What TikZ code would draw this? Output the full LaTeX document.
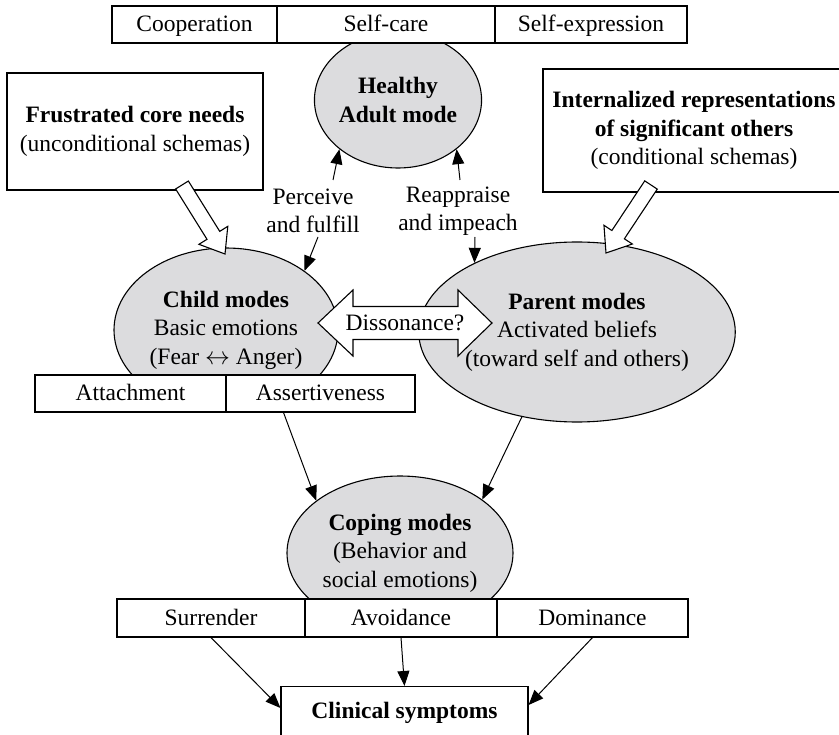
\documentclass[tikz,border=0pt]{standalone}
\usepackage{fontspec}
\setmainfont{Liberation Serif}
\usetikzlibrary{shapes.geometric,arrows.meta,calc}
\definecolor{modegray}{RGB}{220,220,222}
\newcommand\fsz{\fontsize{23.5pt}{28.5pt}\selectfont}
\newcommand\hollowarr[5]{%
  \coordinate (hb) at ($(#2)!#5!(#1)$);
  \draw[hollow] ($(#1)!#3!90:(#2)$) -- ($(hb)!#3!90:(#2)$) -- ($(hb)!#4!90:(#2)$) -- (#2)
    -- ($(hb)!#4!-90:(#2)$) -- ($(hb)!#3!-90:(#2)$) -- ($(#1)!#3!-90:(#2)$) -- cycle;}
\begin{document}
\begin{tikzpicture}[x=1pt,y=-1pt,
  every node/.style={font=\fsz},
  box/.style={draw,line width=1.1pt,fill=white,inner sep=0pt,align=center,minimum height=37pt},
  onel/.style={text height=18pt,text depth=4pt},
  mode/.style={ellipse,draw,line width=1.1pt,fill=modegray,inner sep=0pt,align=center},
  lab/.style={inner sep=0pt,align=center},
  arr/.style={line width=1pt,-{Triangle[length=15pt,width=12pt]}},
  hollow/.style={draw,line width=1.1pt,fill=white,line join=miter}]
\useasboundingbox (0,0) rectangle (839,735);
\clip (0,0) rectangle (839,735);
% healthy adult
\node[mode,minimum width=160pt,minimum height=136pt] (healthy) at (398,100) {\textbf{Healthy}\\\textbf{Adult mode}};
\node[box,onel,minimum width=165pt] (coop) at (194.5,24.5) {Cooperation};
\node[box,onel,minimum width=218pt] (selfcare) at (386,24.5) {Self-care};
\node[box,onel,minimum width=192pt] (selfexp) at (591,24.5) {Self-expression};
% schema boxes
\node[box,minimum width=256pt,minimum height=117pt] (frust) at (135,131.5) {\textbf{Frustrated core needs}\\(unconditional schemas)};
\node[box,minimum width=302pt,minimum height=123pt] (intern) at (694,130.5) {\textbf{Internalized representations}\\\textbf{of significant others}\\(conditional schemas)};
% child / parent
\node[mode,minimum width=224pt,minimum height=164pt] (child) at (226,330) {\textbf{Child modes}\\Basic emotions\\(Fear $\leftrightarrow$ Anger)};
\node[mode,minimum width=270pt,minimum height=180pt] (parent) at (577,332) {\textbf{Parent modes}\\Activated beliefs\\(toward self and others)};
\node[box,onel,minimum width=191pt] (attach) at (130.5,393.5) {Attachment};
\node[box,onel,minimum width=189pt] (assert) at (320.5,393.5) {Assertiveness};
% dissonance double arrow
\coordinate (dl) at (318,323);
\coordinate (dr) at (492,323);
\draw[hollow] (dl) -- ($(dl)+(35,-33)$) -- ($(dl)+(35,-16.5)$) -- ($(dr)+(-34,-16.5)$) -- ($(dr)+(-34,-33)$) -- (dr)
  -- ($(dr)+(-34,33)$) -- ($(dr)+(-34,16.5)$) -- ($(dl)+(35,16.5)$) -- ($(dl)+(35,33)$) -- cycle;
\node[lab] (diss) at (405,323) {Dissonance?};
% hollow arrows from schema boxes
\coordinate (fa) at (182,185);
\coordinate (fb) at (225,254);
\hollowarr{fa}{fb}{7.5pt}{17pt}{22pt}
\coordinate (ia) at (651,185);
\coordinate (ib) at (606,253);
\hollowarr{ia}{ib}{7.5pt}{17pt}{22pt}
% labels and arrows to/from healthy adult
\node[lab] (perc) at (313,211) {Perceive\\and fulfill};
\node[lab] (reap) at (458,211) {Reappraise\\and impeach};
\coordinate (p1) at (333,180);
\coordinate (p2) at (318,237);
\coordinate (r1) at (460,180);
\coordinate (r2) at (475,237);
\draw[arr] (p1) -- (healthy.220);
\draw[arr] (p2) -- (child.37);
\draw[arr] (r1) -- (healthy.320);
\draw[arr] (r2) -- (parent.146);
% coping
\node[mode,minimum width=226pt,minimum height=154pt] (coping) at (400,553) {\textbf{Coping modes}\\(Behavior and\\social emotions)};
\node[box,onel,minimum width=188pt,minimum height=38pt] (surr) at (211,618) {Surrender};
\node[box,onel,minimum width=192pt,minimum height=38pt] (avoid) at (401,618) {Avoidance};
\node[box,onel,minimum width=191pt,minimum height=38pt] (dom) at (592.5,618) {Dominance};
\node[box,minimum width=247pt,minimum height=52pt,anchor=north] (clin) at (404.5,686) {\textbf{Clinical symptoms}};
\draw[arr] ([xshift=-37pt]assert.south) -- (coping.148);
\draw[arr] (parent.237) -- (coping.33);
\draw[arr] (surr.south) -- ([yshift=-22pt]clin.north west);
\draw[arr] (avoid.south) -- (clin.north);
\draw[arr] (dom.south) -- ([yshift=-19pt]clin.north east);
\end{tikzpicture}
\end{document}
